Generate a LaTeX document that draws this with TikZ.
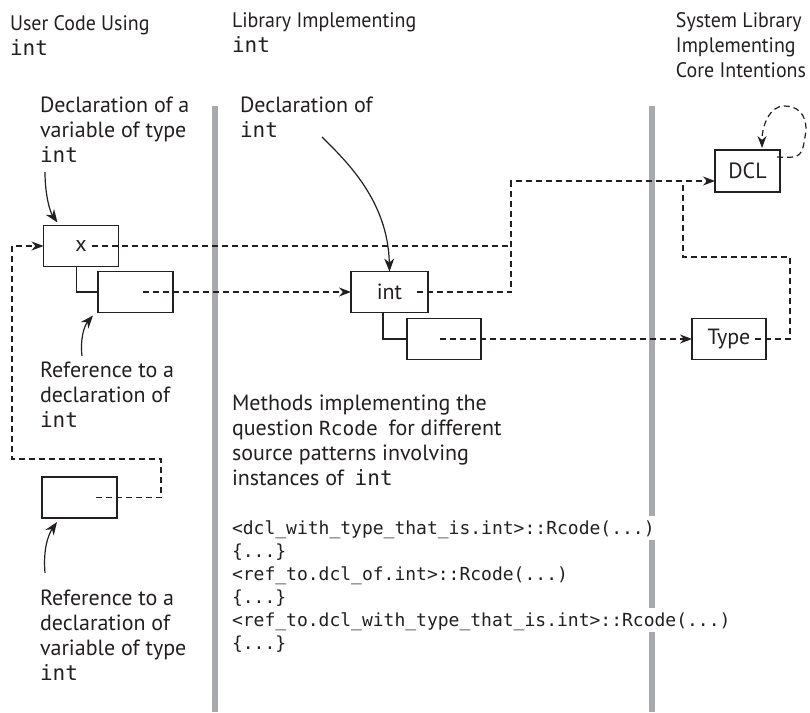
\documentclass[tikz,border=0pt]{standalone}
\usepackage{fontspec}
\setmainfont{PT Sans}
\setmonofont{DejaVu Sans Mono}
\newfontfamily\headfont{PT Sans}[FakeStretch=0.95]
\usetikzlibrary{arrows.meta,calc}
\definecolor{ink}{HTML}{231F20}
\definecolor{railgray}{HTML}{A7A9AC}
% stacked left-aligned lines whose baseline is the first line's
\newcommand{\txtlines}[1]{\begin{tabular}[t]{@{}l@{}}#1\end{tabular}}
\newcommand{\kw}[1]{{\fontsize{21}{25}\selectfont\ttfamily #1}}
\newcommand{\kwsmall}[1]{{\fontsize{19.5}{25}\selectfont\ttfamily #1}}
\begin{document}
\begin{tikzpicture}[x=1pt,y=-1pt,
  every node/.style={inner sep=0pt, outer sep=0pt, text=ink},
  txt/.style={anchor=base west, font=\fontsize{22}{25}\selectfont},
  head/.style={anchor=base west, font=\fontsize{21}{25}\headfont},
  code/.style={anchor=base west, font=\fontsize{18}{23}\selectfont\ttfamily},
  cell/.style={draw=ink, line width=1.4pt, minimum width=75pt, minimum height=41pt,
    font=\fontsize{22}{25}\selectfont},
  link/.style={draw=ink, line width=1.2pt, dash pattern=on 6pt off 4pt},
  tie/.style={draw=ink, line width=1.3pt},
  tip/.style={-{Stealth[length=12pt,width=9pt]}},
  pointer/.style={draw=ink, line width=1.2pt, -{Stealth[length=13pt,width=10pt]}},
  divider/.style={draw=railgray, line width=5.5pt}
]
\useasboundingbox (0,0) rectangle (810,712);

% column dividers
\draw[divider] (215,106) -- (215,712);
\draw[divider] (652,106) -- (652,516);
\draw[divider] (652,540) -- (652,608);
\draw[divider] (652,632) -- (652,712);

% column headings
\node[head] (head1) at (10,30) {\txtlines{User Code Using\\\kw{int}}};
\node[head] (head2) at (232,27) {\txtlines{Library Implementing\\\kw{int}}};
\node[head, anchor=base east] (head3) at (806,27) {\txtlines{System Library\\Implementing\\Core Intentions}};

% captions
\node[txt] (capdecl) at (40,112) {\txtlines{Declaration of a\\variable of type\\\kw{int}}};
\node[txt] (capint) at (240,112) {\txtlines{Declaration of\\\kw{int}}};
\node[txt] (capref) at (40,377) {\txtlines{Reference to a\\declaration of\\\kw{int}}};
\node[txt] (capvar) at (40,605) {\txtlines{Reference to a\\declaration of\\variable of type\\\kw{int}}};
\node[txt] (capmeth) at (232,410) {\txtlines{Methods implementing the\\
  question \kwsmall{Rcode}\hspace{5pt} for different\\
  source patterns involving\\
  instances of\hspace{5pt} \kw{int}}};

% method list
\node[code] (methods) at (232,534) {\txtlines{%
  <dcl\_with\_type\_that\_is.int>::Rcode(...)\\
  \{...\}\\
  <ref\_to.dcl\_of.int>::Rcode(...)\\
  \{...\}\\
  <ref\_to.dcl\_with\_type\_that\_is.int>::Rcode(...)\\
  \{...\}}};

% cells
\node[cell] (xcell) at (81,246) {x};
\node[cell] (xref) at (135.5,292) {};
\node[cell] (lowcell) at (79.5,497.5) {};
\node[cell, minimum width=77pt] (intcell) at (389.5,292) {int};
\node[cell, minimum width=74pt] (intref) at (444,339) {};
\node[cell, minimum width=74pt] (typecell) at (729,339) {Type};
\node[cell, minimum width=65pt, minimum height=42pt] (dclcell) at (747.5,171) {DCL};

% solid ties from a cell to its reference slot
\draw[tie] ($(xcell.south west)+(33,0)$) |- (xref.west);
\draw[tie] ($(intcell.south west)+(32,0)$) |- (intref.west);

% dashed links
\coordinate (bus) at (511,181);
\coordinate (tr) at (790,257);
\coordinate (tl) at (683,257);
\coordinate (lr) at (161,459);
\coordinate (ll) at (12,459);
\coordinate (loopr) at (806,130);
\coordinate (loopt) at (784,106);

\draw[link,tip] ($(xref.center)+(7,0)$) -- (intcell.west);
\draw[link,tip] ($(intref.center)+(-4,0)$) -- (typecell.west);
\draw[link] ($(xcell.center)+(11,0)$) -- (xcell.center -| bus);
\draw[link,tip] ($(intcell.center)+(27,0)$) -| (bus) -- (bus -| dclcell.west);
\draw[link] ($(typecell.center)+(26,0)$) -| (tr) -- (tl) -- (tl |- bus);
\draw[link,tip] ($(lowcell.center)+(16,0)$) -| (lr) -- (ll) |- (xcell.west);
\draw[link,tip] ($(dclcell.north east)+(-3,7)$) .. controls (802,158) .. (loopr)
  .. controls (806,112) and (796,106) .. (loopt)
  .. controls (770,106) and (762,125) .. ($(dclcell.north)+(14.5,-2)$);

% pointers from the captions
\coordinate (p1) at (45,172);
\coordinate (p2) at (322,137);
\coordinate (p3) at (82,356);
\coordinate (p4) at (45,573);
\draw[pointer] (p1) .. controls (45,195) and (50,212) .. ($(xcell.north west)+(14,-3)$);
\draw[pointer] (p2) .. controls (345,160) and (388,200) .. (intcell.north);
\draw[pointer] (p3) .. controls (80,340) and (84,326) .. ($(xref.south west)+(-5,3)$);
\draw[pointer] (p4) .. controls (43,550) and (48,535) .. ($(lowcell.south west)+(15,4)$);
\end{tikzpicture}
\end{document}
